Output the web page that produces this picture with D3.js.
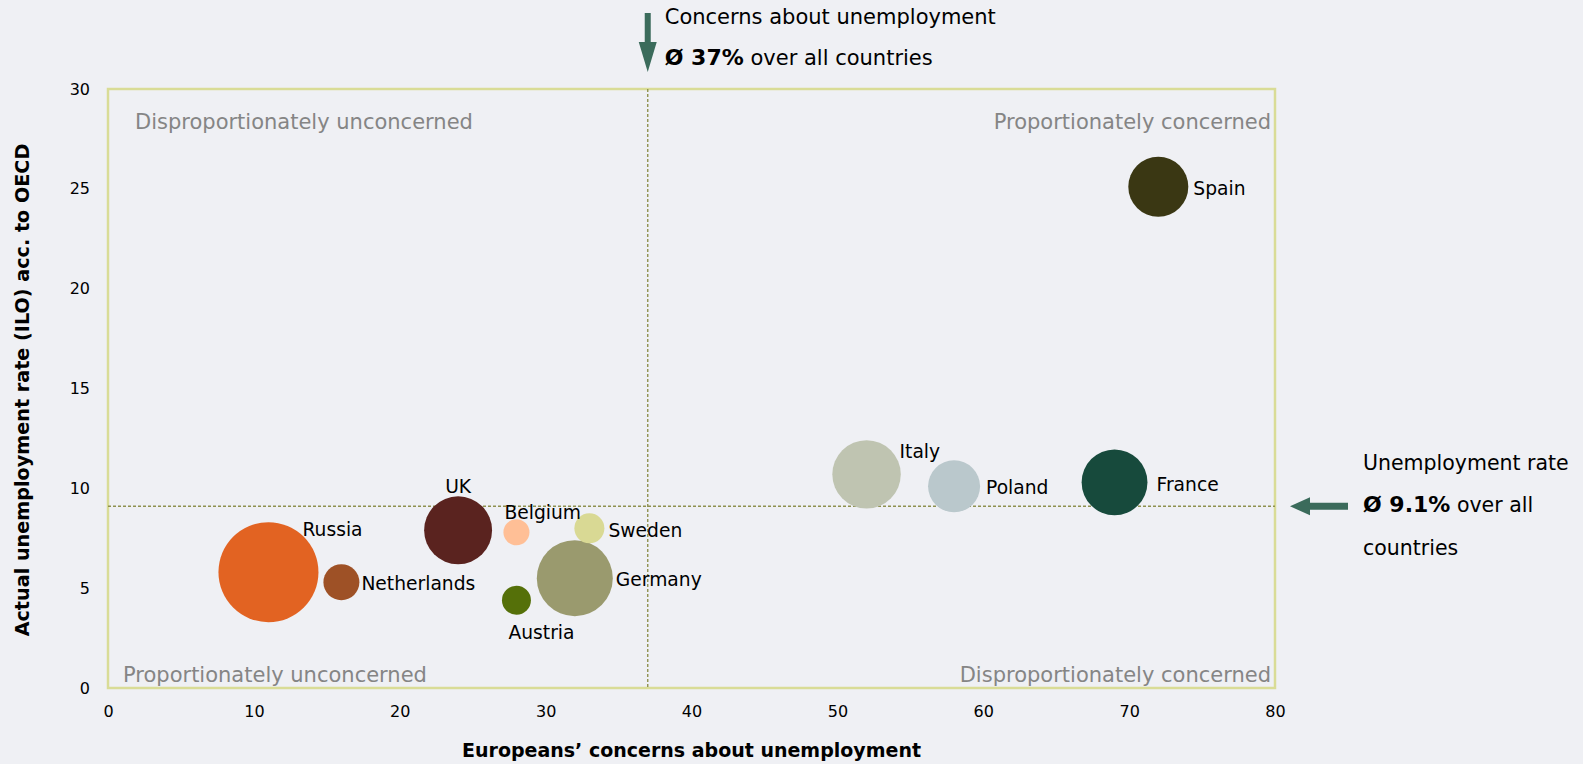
<!DOCTYPE html>
<html>
<head>
<meta charset="utf-8">
<script src="https://cdn.jsdelivr.net/npm/d3@7"></script>
<style>
  html, body { margin: 0; padding: 0; background: #eff0f4; }
  svg { display: block; font-family: "DejaVu Sans", Verdana, sans-serif; }
</style>
</head>
<body>
<div id="vis"></div>
<script>
// chart values
const countries = ["Russia", "Netherlands", "UK", "Belgium", "Sweden", "Austria", "Germany", "Italy", "Poland", "France", "Spain"];
const concern = [11, 16, 24, 28, 33, 28, 32, 52, 58, 69, 72];          // % concerned about unemployment
const unemployment = [5.8, 5.3, 7.9, 7.8, 8.0, 4.4, 5.5, 10.7, 10.1, 10.3, 25.1]; // ILO rate %
const population = [143, 18.5, 66, 9.7, 12.9, 12, 82.6, 67, 38.7, 62, 51.5];   // bubble size
const colors = ["#e26322", "#9e5126", "#5a231f", "#ffbf96", "#d9d994", "#557009",
                "#9a9a6e", "#bfc4b1", "#bac8cc", "#174a3c", "#3a3713"];
const xTicks = [0, 10, 20, 30, 40, 50, 60, 70, 80];
const yTicks = [0, 5, 10, 15, 20, 25, 30];
const avgConcern = 37;
const avgUnemployment = 9.1;
const quadrants = ["Disproportionately unconcerned", "Proportionately concerned",
                   "Proportionately unconcerned", "Disproportionately concerned"];

// label placement next to each bubble: [dx, dy, anchor]
const labelPos = [[34, -36, "start"], [20, 8, "start"], [0, -37, "middle"], [-12, -13, "start"],
                  [19, 9, "start"], [-8, 39, "start"], [41, 8, "start"], [33, -16, "start"],
                  [32, 8, "start"], [42, 9, "start"], [35, 8, "start"]];

const W = 1583, H = 764;
let svg = d3.select('#vis')
  .append('svg')
  .attr('width', W)
  .attr('height', H)
  .attr('viewBox', [0, 0, W, H].join(' '));

let x = d3.scaleLinear().domain([0, 80]).range([108, 1275]);
let y = d3.scaleLinear().domain([0, 30]).range([688, 89]);
let r = d3.scaleSqrt().domain([0, 143]).range([0, 50]);

// axes (labels only)
let xAxis = svg.append('g')
  .attr('transform', `translate(0,${y(0)})`)
  .call(d3.axisBottom(x).tickValues(xTicks).tickSize(0).tickPadding(18));
let yAxis = svg.append('g')
  .attr('transform', `translate(${x(0)},0)`)
  .call(d3.axisLeft(y).tickValues(yTicks).tickSize(0).tickPadding(18));
svg.selectAll('.domain').remove();
svg.selectAll('.tick text')
  .attr('font-family', '"DejaVu Sans", Verdana, sans-serif')
  .attr('font-size', 16)
  .attr('fill', '#000');

// plot frame
svg.append('rect')
  .attr('x', x(0))
  .attr('y', y(30))
  .attr('width', x(80) - x(0))
  .attr('height', y(0) - y(30))
  .attr('fill', 'none')
  .attr('stroke', '#d9dc96')
  .attr('stroke-width', 2.5);

// average lines
svg.append('line')
  .attr('x1', x(avgConcern)).attr('x2', x(avgConcern))
  .attr('y1', y(30)).attr('y2', y(0))
  .attr('stroke', '#8f9150').attr('stroke-width', 1.4)
  .attr('stroke-dasharray', '3,2');
svg.append('line')
  .attr('x1', x(0)).attr('x2', x(80))
  .attr('y1', y(avgUnemployment)).attr('y2', y(avgUnemployment))
  .attr('stroke', '#8f9150').attr('stroke-width', 1.4)
  .attr('stroke-dasharray', '3,2');

// quadrant labels
let qLabels = svg.append('g')
  .attr('fill', '#858585')
  .attr('font-size', 21);
qLabels.append('text').attr('x', 135).attr('y', 129).text(quadrants[0]);
qLabels.append('text').attr('x', 1271).attr('y', 129).attr('text-anchor', 'end').text(quadrants[1]);
qLabels.append('text').attr('x', 123).attr('y', 682).text(quadrants[2]);
qLabels.append('text').attr('x', 1271).attr('y', 682).attr('text-anchor', 'end').text(quadrants[3]);

// bubbles, biggest first so the small ones stay on top
let order = d3.range(countries.length).sort((a, b) => population[b] - population[a]);
svg.append('g')
  .selectAll('circle')
  .data(order)
  .join('circle')
  .attr('cx', i => x(concern[i]))
  .attr('cy', i => y(unemployment[i]))
  .attr('r', i => r(population[i]))
  .attr('fill', i => colors[i]);

svg.append('g')
  .attr('font-size', 18.7)
  .attr('fill', '#000')
  .selectAll('text')
  .data(d3.range(countries.length))
  .join('text')
  .attr('x', i => x(concern[i]) + labelPos[i][0])
  .attr('y', i => y(unemployment[i]) + labelPos[i][1])
  .attr('text-anchor', i => labelPos[i][2])
  .text(i => countries[i]);

// axis titles
svg.append('text')
  .attr('x', (x(0) + x(80)) / 2)
  .attr('y', 757)
  .attr('text-anchor', 'middle')
  .attr('font-weight', 'bold')
  .attr('font-size', 19)
  .text('Europeans’ concerns about unemployment');
svg.append('text')
  .attr('transform', 'translate(29,390) rotate(-90)')
  .attr('text-anchor', 'middle')
  .attr('font-weight', 'bold')
  .attr('font-size', 19.2)
  .text('Actual unemployment rate (ILO) acc. to OECD');

// annotation arrows
const arrowColor = '#3b6b5b';
let ax = x(avgConcern);
svg.append('path')
  .attr('d', `M${ax - 3},13 H${ax + 3} V42 H${ax + 9} L${ax},72 L${ax - 9},42 H${ax - 3} Z`)
  .attr('fill', arrowColor);
let ay = y(avgUnemployment);
svg.append('path')
  .attr('d', `M1348,${ay - 3.5} V${ay + 3.5} H1310 V${ay + 9} L1290,${ay} L1310,${ay - 9} V${ay - 3.5} Z`)
  .attr('fill', arrowColor);

// annotation texts
let topNote = svg.append('g').attr('font-size', 21).attr('fill', '#000');
topNote.append('text').attr('x', ax + 17).attr('y', 24).text('Concerns about unemployment');
let t2 = topNote.append('text').attr('x', ax + 17).attr('y', 65);
t2.append('tspan').attr('font-weight', 'bold').attr('font-size', 22).text('Ø 37%');
t2.append('tspan').text(' over all countries');

let rightNote = svg.append('g').attr('font-size', 20.5).attr('fill', '#000');
rightNote.append('text').attr('x', 1363).attr('y', 470).text('Unemployment rate');
let r2 = rightNote.append('text').attr('x', 1363).attr('y', 512);
r2.append('tspan').attr('font-weight', 'bold').attr('font-size', 22).text('Ø 9.1%');
r2.append('tspan').text(' over all');
rightNote.append('text').attr('x', 1363).attr('y', 555).text('countries');
</script>
</body>
</html>
